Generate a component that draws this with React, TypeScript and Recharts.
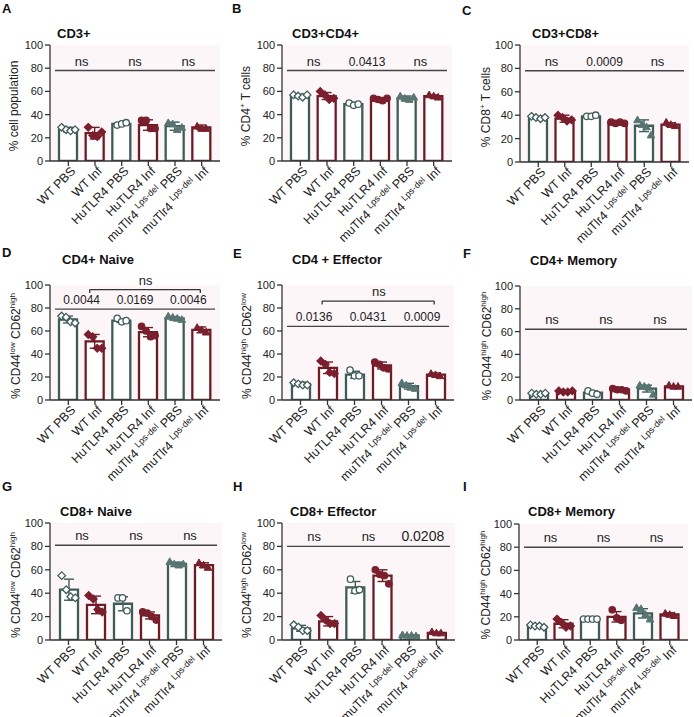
import React from 'react';
import {
  ComposedChart,
  Bar,
  Cell,
  ErrorBar,
  Line,
  XAxis,
  YAxis,
  CartesianGrid,
  ReferenceLine,
  ReferenceDot,
} from 'recharts';

const groups = ['WT PBS', 'WT Inf', 'HuTLR4 PBS', 'HuTLR4 Inf', 'muTlr4 PBS', 'muTlr4 Inf'];
const yTicks = [0, 20, 40, 60, 80, 100];

// A - CD3+
const cd3Mean = [27, 24, 32, 31, 30, 29];
const cd3Sd = [2, 5, 1, 4.5, 3.5, 2];
const cd3Pts = [[29, 27, 26, 27], [29, 22, 21, 25], [31, 32, 33], [35, 35, 28, 28], [33, 32, 27, 29], [30, 28, 28]];
const cd3Sig = ['ns', 'ns', 'ns'];

// B - CD3+CD4+
const cd4Mean = [56, 56, 49, 53, 54, 56];
const cd4Sd = [1.5, 3, 1.5, 1, 2, 1];
const cd4Pts = [[57, 56, 55, 57], [60, 57, 53, 54], [50, 48, 49], [54, 53, 52, 54], [56, 54, 53, 55], [57, 56, 55]];
const cd4Sig = ['ns', '0.0413', 'ns'];

// C - CD3+CD8+
const cd8Mean = [38, 37, 39, 34, 31, 32];
const cd8Sd = [1, 3, 0.8, 0.8, 5, 1.5];
const cd8Pts = [[39, 38, 37, 38], [40, 38, 35, 36], [39, 39, 40], [34, 33, 34, 33], [36, 32, 30, 23], [34, 32, 31]];
const cd8Sig = ['ns', '0.0009', 'ns'];

// D - CD4+ naive
const naive4Mean = [70, 51, 69, 59, 71, 61];
const naive4Sd = [3, 6, 1.5, 4, 1.5, 2.5];
const naive4Pts = [[73, 72, 68, 67], [57, 55, 45, 45], [71, 68, 69], [64, 60, 55, 56], [73, 72, 71, 70], [63, 61, 59]];
const naive4Sig = ['0.0044', '0.0169', '0.0046'];

// E - CD4+ effector
const eff4Mean = [14, 28, 22, 30, 12, 22];
const eff4Sd = [1.5, 5, 3, 3, 2.5, 1.5];
const eff4Pts = [[15, 14, 13, 13], [34, 31, 24, 23], [26, 21, 21], [33, 31, 28, 27], [15, 13, 11, 10], [23, 22, 21]];
const eff4Sig = ['0.0136', '0.0431', '0.0009'];

// F - CD4+ memory
const mem4Mean = [5.5, 7.5, 6.5, 9, 10, 12];
const mem4Sd = [0.5, 1, 1.5, 1, 3, 0.5];
const mem4Pts = [[6, 5, 5, 6], [8, 7, 7, 8], [8, 6, 5], [10, 9, 9, 8], [13, 12, 11, 5], [13, 12, 12]];
const mem4Sig = ['ns', 'ns', 'ns'];

// G - CD8+ naive
const naive8Mean = [43, 30, 31, 21, 65, 64];
const naive8Sd = [9, 7.5, 6, 3, 1.5, 2];
const naive8Pts = [[55, 43, 37, 36], [38, 35, 26, 24], [36, 36, 25], [24, 23, 20, 17], [67, 65, 64, 65], [66, 64, 62]];
const naive8Sig = ['ns', 'ns', 'ns'];

// H - CD8+ effector
const eff8Mean = [10, 16, 45, 55, 4, 6];
const eff8Sd = [2.5, 4, 5, 5, 0.5, 0.8];
const eff8Pts = [[13, 11, 8, 8], [21, 17, 14, 14], [52, 42, 43], [60, 56, 55, 48], [4.5, 4, 4, 3.5], [7, 6, 6]];
const eff8Sig = ['ns', 'ns', '0.0208'];

// I - CD8+ memory
const mem8Mean = [12, 14, 18, 20, 23, 22];
const mem8Sd = [1, 3.5, 0.5, 4.5, 4, 1.5];
const mem8Pts = [[13, 12, 12, 11], [18, 15, 11, 12], [18, 18, 18, 18], [26, 19, 17], [28, 27, 22, 18], [23, 22, 21]];
const mem8Sig = ['ns', 'ns', 'ns'];

const GREEN = '#3f5c57';
const GREEN_PT = '#587571';
const RED = '#6d1b25';
const RED_PT = '#7a1f2d';
const AXIS = '#333';
const FONT = '"Liberation Sans", Arial, Helvetica, sans-serif';

const sup = (s: string) => <sup style={{ fontSize: 8 }}>{s}</sup>;

type PanelDef = {
  letter: string;
  title: string;
  ylabel: React.ReactNode;
  mean: number[];
  sd: number[];
  pts: number[][];
  sig: string[];
  sigY: number;
  sigSize?: number[];
  bracketY?: number;
  box: [number, number, number, number];
  titlePos: [number, number];
  letterPos: [number, number];
  ylabX: number;
};

const panels: PanelDef[] = [
  { letter: 'A', title: 'CD3+', ylabel: '% cell population', mean: cd3Mean, sd: cd3Sd, pts: cd3Pts, sig: cd3Sig, sigY: 78, box: [50, 45, 220, 161], titlePos: [57, 34], letterPos: [2, 1], ylabX: 14 },
  { letter: 'B', title: 'CD3+CD4+', ylabel: <>% CD4{sup('+')} T cells</>, mean: cd4Mean, sd: cd4Sd, pts: cd4Pts, sig: cd4Sig, sigY: 78, box: [282, 45, 452, 161], titlePos: [292, 34], letterPos: [232, 1], ylabX: 244 },
  { letter: 'C', title: 'CD3+CD8+', ylabel: <>% CD8{sup('+')} T cells</>, mean: cd8Mean, sd: cd8Sd, pts: cd8Pts, sig: cd8Sig, sigY: 78, box: [520, 45, 689, 162], titlePos: [532, 34], letterPos: [462, 3], ylabX: 484 },
  { letter: 'D', title: 'CD4+ Naive', ylabel: <>% CD44{sup('low')} CD62{sup('high')}</>, mean: naive4Mean, sd: naive4Sd, pts: naive4Pts, sig: naive4Sig, sigY: 79, bracketY: 96, box: [50, 285, 220, 400], titlePos: [62, 260], letterPos: [2, 245], ylabX: 14 },
  { letter: 'E', title: 'CD4 + Effector', ylabel: <>% CD44{sup('high')} CD62{sup('low')}</>, mean: eff4Mean, sd: eff4Sd, pts: eff4Pts, sig: eff4Sig, sigY: 64, bracketY: 86, box: [282, 285, 454, 400], titlePos: [292, 260], letterPos: [233, 246], ylabX: 245 },
  { letter: 'F', title: 'CD4+ Memory', ylabel: <>% CD44{sup('high')} CD62{sup('high')}</>, mean: mem4Mean, sd: mem4Sd, pts: mem4Pts, sig: mem4Sig, sigY: 62, box: [520, 286, 692, 400], titlePos: [530, 261], letterPos: [463, 246], ylabX: 485 },
  { letter: 'G', title: 'CD8+ Naive', ylabel: <>% CD44{sup('low')} CD62{sup('high')}</>, mean: naive8Mean, sd: naive8Sd, pts: naive8Pts, sig: naive8Sig, sigY: 81, box: [50, 523, 222, 640], titlePos: [60, 512], letterPos: [2, 479], ylabX: 14 },
  { letter: 'H', title: 'CD8+ Effector', ylabel: <>% CD44{sup('high')} CD62{sup('low')}</>, mean: eff8Mean, sd: eff8Sd, pts: eff8Pts, sig: eff8Sig, sigY: 80, sigSize: [13, 13, 14], box: [282, 523, 455, 640], titlePos: [290, 512], letterPos: [233, 479], ylabX: 245 },
  { letter: 'I', title: 'CD8+ Memory', ylabel: <>% CD44{sup('high')} CD62{sup('high')}</>, mean: mem8Mean, sd: mem8Sd, pts: mem8Pts, sig: mem8Sig, sigY: 80, box: [519, 524, 688, 640], titlePos: [528, 512], letterPos: [463, 479], ylabX: 484 },
];

const GroupTick = (props: any) => {
  const { x, y, payload } = props;
  const name: string = payload.value;
  const mu = name.startsWith('muTlr4');
  return (
    <g transform={`translate(${x + 5},${y + 1})`}>
      <text transform="rotate(-45)" textAnchor="end" fontSize={12.5} fill="#222" dy={4}>
        {mu ? (
          <>
            <tspan>{'muTlr4\u00a0'}</tspan>
            <tspan fontSize={9} dy={-5}>Lps-del</tspan>
            <tspan dy={5}>{'\u00a0' + name.slice(7)}</tspan>
          </>
        ) : (
          name
        )}
      </text>
    </g>
  );
};

// shape of the individual points per group
const makeDot = (k: number) => (props: any) => {
  const { cx, cy, index, payload } = props;
  const key = `dot-${k}-${index}`;
  if (cx == null || cy == null || payload[`p${k}`] == null) return <g key={key} />;
  const n = payload.n;
  const x = cx + (k - (n - 1) / 2) * 4.5;
  const inf = index % 2 === 1;
  const col = inf ? RED_PT : GREEN;
  if (index < 2) {
    const d = 3.8;
    return (
      <polygon key={key} points={`${x},${cy - d} ${x + d},${cy} ${x},${cy + d} ${x - d},${cy}`}
        fill={inf ? col : '#fff'} stroke={col} strokeWidth={1.3} />
    );
  }
  if (index < 4) {
    return <circle key={key} cx={x} cy={cy} r={3.2} fill={inf ? col : '#fff'} stroke={col} strokeWidth={1.3} />;
  }
  const s = 3.8;
  const fillT = inf ? col : GREEN_PT;
  return (
    <polygon key={key} points={`${x},${cy - s} ${x + s},${cy + s * 0.75} ${x - s},${cy + s * 0.75}`}
      fill={fillT} stroke={fillT} strokeWidth={1} />
  );
};

const Panel = ({ p }: { p: PanelDef }) => {
  const [l, t, r, b] = p.box;
  const padTop = 34;
  const axisH = 92;
  const width = r - l + 46;
  const height = padTop + (b - t) + axisH;

  const data = groups.map((name, i) => {
    const row: any = {
      name,
      pos: i + 0.5,
      mean: p.mean[i],
      sdPbs: i % 2 === 0 ? p.sd[i] : null,
      sdInf: i % 2 === 1 ? p.sd[i] : null,
      n: p.pts[i].length,
    };
    for (let k = 0; k < 5; k++) row[`p${k}`] = p.pts[i][k] ?? null;
    return row;
  });

  const sigSize = p.sigSize ?? p.sig.map((s) => (s === 'ns' ? 13 : 12));

  return (
    <>
      <div style={{ position: 'absolute', left: p.letterPos[0], top: p.letterPos[1], fontSize: 13, lineHeight: '16px', fontWeight: 700 }}>
        {p.letter}
      </div>
      <div style={{ position: 'absolute', left: p.titlePos[0], top: p.titlePos[1] - 8, fontSize: 13, lineHeight: '16px', fontWeight: 700 }}>
        {p.title}
      </div>
      <div
        style={{
          position: 'absolute',
          left: p.ylabX,
          top: (t + b) / 2 + 3,
          transform: 'translate(-50%, -50%) rotate(-90deg)',
          fontSize: 12,
          lineHeight: '14px',
          whiteSpace: 'nowrap',
          color: '#222',
        }}
      >
        {p.ylabel}
      </div>
      <div style={{ position: 'absolute', left: l - 45, top: t - padTop }}>
        <ComposedChart width={width} height={height} data={data} margin={{ top: padTop, right: 1, bottom: 0, left: 5 }}>
          <CartesianGrid horizontal={false} vertical={false} fill="#fdf6f9" />
          <XAxis dataKey="name" height={axisH} interval={0} tickSize={5} padding={{ left: 5, right: 5 }}
            stroke={AXIS} strokeWidth={1.3} tick={<GroupTick />} />
          <XAxis xAxisId="n" dataKey="pos" type="number" domain={[0, 6]} hide padding={{ left: 5, right: 5 }} allowDataOverflow />
          <YAxis domain={[0, 100]} ticks={yTicks} width={40} tickSize={5} interval={0} stroke={AXIS} strokeWidth={1.3}
            tick={{ fontSize: 11, fill: '#222' }} allowDataOverflow />
          <Bar dataKey="mean" barSize={18} isAnimationActive={false}>
            {data.map((d, i) => (
              <Cell key={d.name} fill="#fff" stroke={i % 2 ? RED : GREEN} strokeWidth={2.3} />
            ))}
            <ErrorBar dataKey="sdPbs" direction="y" width={5} stroke={GREEN} strokeWidth={1.4} />
            <ErrorBar dataKey="sdInf" direction="y" width={5} stroke={RED} strokeWidth={1.4} />
          </Bar>
          {[0, 1, 2, 3, 4].map((k) => (
            <Line key={k} dataKey={`p${k}`} stroke="none" dot={makeDot(k)} activeDot={false} isAnimationActive={false} />
          ))}
          <ReferenceLine xAxisId="n" segment={[{ x: 0, y: p.sigY }, { x: 6, y: p.sigY }]} stroke="#444" strokeWidth={1.4} ifOverflow="visible" />
          {p.sig.map((s, j) => (
            <ReferenceDot key={j} xAxisId="n" x={1 + 2 * j} y={p.sigY} r={1} fill="none" stroke="none"
              label={{ value: s, position: 'top', offset: 4, fontSize: sigSize[j], fill: '#222' }} />
          ))}
          {p.bracketY != null && (
            <>
              <ReferenceLine xAxisId="n" segment={[{ x: 1.3, y: p.bracketY }, { x: 5.45, y: p.bracketY }]} stroke="#333" strokeWidth={1.3} ifOverflow="visible" />
              <ReferenceLine xAxisId="n" segment={[{ x: 1.3, y: p.bracketY }, { x: 1.3, y: p.bracketY - 3 }]} stroke="#333" strokeWidth={1.3} ifOverflow="visible" />
              <ReferenceLine xAxisId="n" segment={[{ x: 5.45, y: p.bracketY }, { x: 5.45, y: p.bracketY - 3 }]} stroke="#333" strokeWidth={1.3} ifOverflow="visible" />
              <ReferenceDot xAxisId="n" x={3.4} y={p.bracketY} r={1} fill="none" stroke="none"
                label={{ value: 'ns', position: 'top', offset: 4, fontSize: 13, fill: '#222' }} />
            </>
          )}
        </ComposedChart>
      </div>
    </>
  );
};

export default function App() {
  return (
    <div style={{ position: 'absolute', left: 0, top: 0, width: 694, height: 717, background: '#fff', fontFamily: FONT, color: '#111' }}>
      {panels.map((p) => (
        <Panel key={p.letter} p={p} />
      ))}
    </div>
  );
}
